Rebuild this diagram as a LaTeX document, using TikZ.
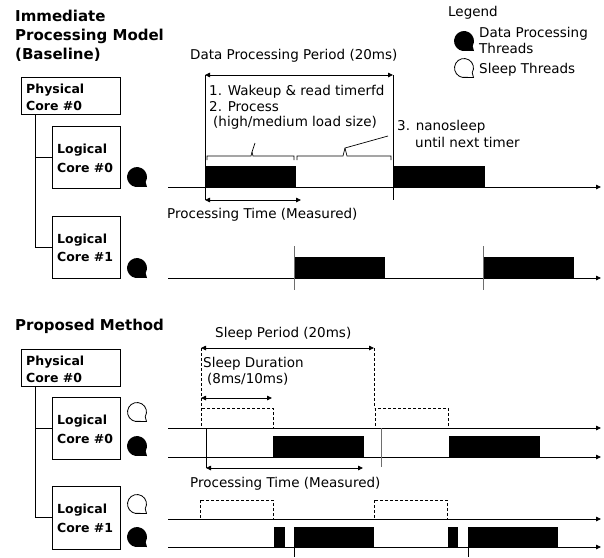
\documentclass[tikz,border=0pt]{standalone}
\usepackage{fontspec}
\setmainfont{DejaVu Sans}
\usetikzlibrary{arrows.meta}

\definecolor{tickgray}{RGB}{110,110,110}

\tikzset{
  body/.style={font=\fontsize{13.5}{16}\selectfont, inner sep=0pt, anchor=base west},
  heading/.style={font=\fontsize{15}{19}\selectfont\bfseries, inner sep=0pt, anchor=base west},
  corelabel/.style={font=\fontsize{12.5}{18}\selectfont\bfseries, inner sep=0pt, anchor=base west},
  corebox/.style={draw, line width=0.8pt, inner sep=0pt, rectangle},
  timeaxis/.style={line width=0.8pt, -{Triangle[length=5pt,width=4.5pt]}},
  span/.style={line width=0.8pt, {Triangle[length=5pt,width=4.5pt]}-{Triangle[length=5pt,width=4.5pt]}},
  busy/.style={fill=black},
  idle/.style={draw, line width=0.8pt, dash pattern=on 3pt off 2pt},
  guide/.style={line width=0.8pt},
  procthread/.pic={
    \fill (30:10) arc[start angle=30, end angle=-280, radius=10] -- (10,10) -- cycle;
  },
  sleepthread/.pic={
    \draw[line width=0.8pt] (30:9.5) arc[start angle=30, end angle=-280, radius=9.5] -- (9.5,9.5) -- cycle;
  },
}

\begin{document}
\begin{tikzpicture}[x=1pt, y=-1pt]
\useasboundingbox (0,0) rectangle (604,557);

% ---------------- Legend ----------------
\node[body] (legend) at (448,16) {Legend};
\pic at (464,41) {procthread};
\node[body] (lgproc1) at (479,37) {Data Processing};
\node[body] (lgproc2) at (479,53) {Threads};
\pic at (464,68) {sleepthread};
\node[body] (lgsleep) at (479,73) {Sleep Threads};

% ================= Baseline model =================
\node[heading] (h1) at (15,21) {Immediate};
\node[heading] (h2) at (15,40) {Processing Model};
\node[heading] (h3) at (15,59) {(Baseline)};

\node[corebox, minimum width=99pt, minimum height=37pt] (pcA) at (70.5,95.5) {};
\node[corebox, minimum width=68pt, minimum height=62pt] (lcA0) at (86,157) {};
\node[corebox, minimum width=68pt, minimum height=62pt] (lcA1) at (86,247) {};
\node[corelabel] at (26,93) {Physical};
\node[corelabel] at (26,110) {Core \#0};
\node[corelabel] at (57,153) {Logical};
\node[corelabel] at (57,172) {Core \#0};
\node[corelabel] at (57,243) {Logical};
\node[corelabel] at (57,261) {Core \#1};
\draw[guide] ([xshift=15pt]pcA.south west) |- (lcA0.west);
\draw[guide] ([xshift=15pt]pcA.south west) |- (lcA1.west);

\pic at (137,177) {procthread};
\pic at (137,268) {procthread};

% logical core #0 timeline
\coordinate (a0s) at (168,187);
\coordinate (a0e) at (601,187);
\fill[busy] (205,166) rectangle (296,187);
\fill[busy] (393,166) rectangle (485,187);
\draw[timeaxis] (a0s) -- (a0e);

\coordinate (pA) at (205,75);
\coordinate (pB) at (393,75);
\draw[guide] (pA) -- (205,200);
\draw[guide] (pB) -- (393,200);
\draw[span] (pA) -- (pB);
\node[body] (periodA) at (190,59) {Data Processing Period (20ms)};

\node[body] (st1) at (209,95) {1. Wakeup \& read timerfd};
\node[body] (st2) at (209,111) {2. Process};
\node[body] (st2b) at (213,126) {(high/medium load size)};
\node[body] (st3) at (397,130) {3. nanosleep};
\node[body] (st3b) at (415,147) {until next timer};

% braces over the busy and idle parts
\draw[line width=0.7pt] (207,160) -- (207,156) -- (251,156) -- (252,152) -- (255,143);
\draw[line width=0.7pt] (252,152) -- (253,156) -- (294,156) -- (294,160);
\draw[line width=0.7pt] (297,160) -- (297,156) -- (343,156) -- (345,148) -- (388,136);
\draw[line width=0.7pt] (345,148) -- (347,156) -- (391,156) -- (391,160);

\coordinate (mA) at (301,200);
\draw[span] (205,200) -- (mA);
\node[body] (measA) at (167,218) {Processing Time (Measured)};

% logical core #1 timeline
\coordinate (a1s) at (168,278);
\coordinate (a1e) at (601,278);
\fill[busy] (294,257) rectangle (385,278);
\fill[busy] (483,257) rectangle (574,278);
\draw[timeaxis] (a1s) -- (a1e);
\draw[guide, tickgray] (294,246) -- (294,290);
\draw[guide, tickgray] (483,246) -- (483,290);

% ================= Proposed method =================
\node[heading] (h4) at (15,330) {Proposed Method};

\node[corebox, minimum width=99pt, minimum height=37pt] (pcB) at (70.5,367.5) {};
\node[corebox, minimum width=68pt, minimum height=62pt] (lcB0) at (86,428) {};
\node[corebox, minimum width=68pt, minimum height=63pt] (lcB1) at (86,517.5) {};
\node[corelabel] at (26,365) {Physical};
\node[corelabel] at (26,382) {Core \#0};
\node[corelabel] at (57,424) {Logical};
\node[corelabel] at (57,443) {Core \#0};
\node[corelabel] at (57,513) {Logical};
\node[corelabel] at (57,532) {Core \#1};
\draw[guide] ([xshift=15pt]pcB.south west) |- (lcB0.west);
\draw[guide] ([xshift=15pt]pcB.south west) |- (lcB1.west);

\pic at (137,412) {sleepthread};
\pic at (137,446) {procthread};
\pic at (137,504) {sleepthread};
\pic at (137,537) {procthread};

% logical core #0: sleep and processing rows
\draw[idle] (201,408) rectangle (273,428);
\draw[idle] (375,408) rectangle (448,428);
\fill[busy] (273,436) rectangle (364,457);
\fill[busy] (449,436) rectangle (540,457);
\draw[timeaxis] (168,428) -- (601,428);
\draw[timeaxis] (168,457) -- (601,457);

\coordinate (sA) at (201,348);
\coordinate (sB) at (374,348);
\draw[idle] (sA) -- (201,408);
\draw[idle] (sB) -- (374,408);
\draw[span] (sA) -- (sB);
\node[body] (periodB) at (215,337) {Sleep Period (20ms)};
\node[body] (dur1) at (203,367) {Sleep Duration};
\node[body] (dur2) at (207,383) {(8ms/10ms)};
\draw[span] (201,398) -- (272,398);

\coordinate (mB0) at (206,468);
\coordinate (mB1) at (363,468);
\draw[guide] (206,428) -- (mB0);
\draw[guide, tickgray] (381,428) -- (381,467);
\draw[span] (mB0) -- (mB1);
\node[body] (measB) at (190,487) {Processing Time (Measured)};

% logical core #1: sleep and processing rows
\draw[idle] (200,500) rectangle (273,519);
\draw[idle] (374,500) rectangle (447,519);
\fill[busy] (274,527) rectangle (285,547);
\fill[busy] (294,527) rectangle (374,547);
\fill[busy] (448,527) rectangle (458,547);
\fill[busy] (468,527) rectangle (558,547);
\draw[timeaxis] (168,519) -- (601,519);
\draw[timeaxis] (168,547) -- (601,547);
\draw[guide] (294,540) -- (294,557);
\draw[guide] (468,540) -- (468,557);
\end{tikzpicture}
\end{document}
